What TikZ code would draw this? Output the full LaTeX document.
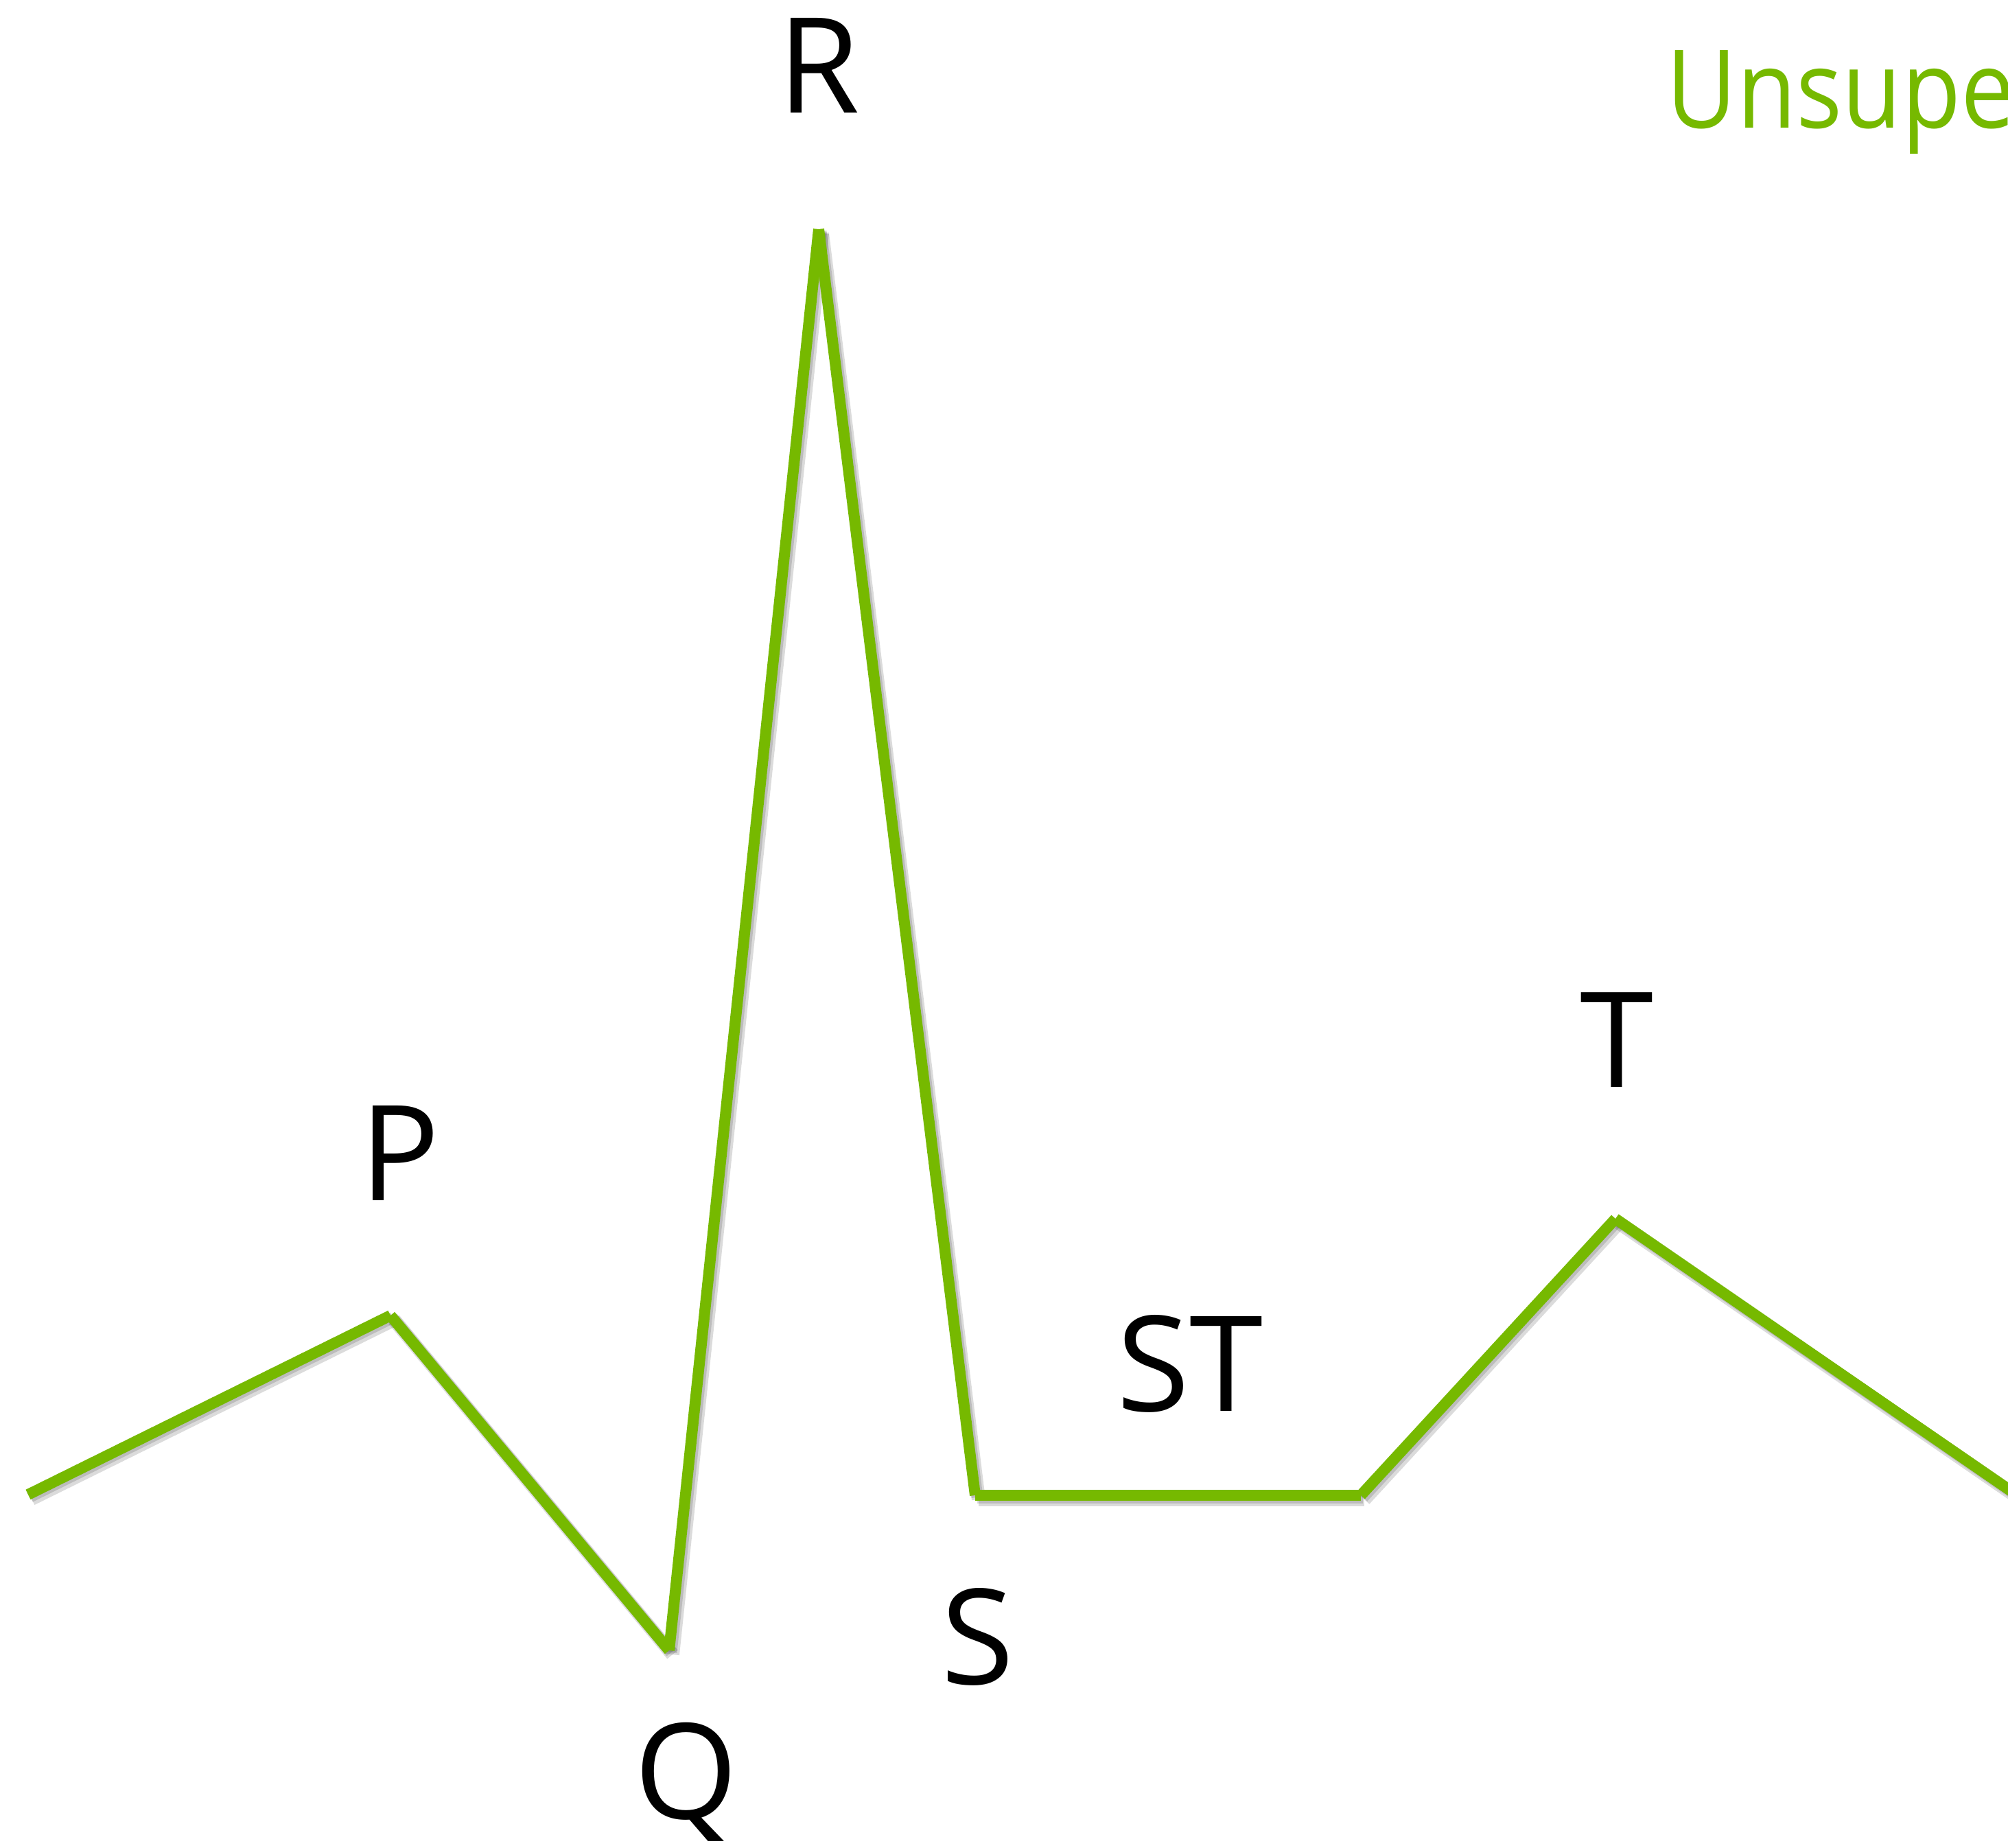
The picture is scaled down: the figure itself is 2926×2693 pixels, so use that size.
\documentclass[tikz,border=0pt]{standalone}
\usepackage{fontspec}
\setmainfont{Open Sans}
\definecolor{nvgreen}{HTML}{76B900}
\tikzset{
  wave/.style={draw=nvgreen, line width=0.16cm, line cap=butt},
  waveshadow/.style={draw=black, opacity=0.14, line width=0.2cm, line cap=butt},
  lbl/.style={inner sep=0pt, anchor=base, text=black, font=\fontsize{55}{66}\selectfont},
  ttl/.style={inner sep=0pt, anchor=base west, text=nvgreen, font=\fontsize{45}{54}\selectfont}
}
\begin{document}
\begin{tikzpicture}[x=0.01cm, y=-0.01cm]
\clip (0,0) rectangle (2926,2693);
\fill[white] (0,0) rectangle (2926,2693);
% vertices
\coordinate (start) at (41,2178);
\coordinate (p) at (569,1917);
\coordinate (q) at (975,2405);
\coordinate (r) at (1193,334);
\coordinate (s) at (1421,2179);
\coordinate (ste) at (1983,2179);
\coordinate (t) at (2354,1776);
\coordinate (fin) at (2970,2200);
% shadows
\foreach \a/\b in {start/p, p/q, q/r, r/s, s/ste, ste/t, t/fin}{
  \draw[waveshadow] ([shift={(5,6)}]\a) -- ([shift={(5,6)}]\b);
  \draw[waveshadow, line width=0.17cm] ([shift={(3,3)}]\a) -- ([shift={(3,3)}]\b);
}
% wave segments
\foreach \a/\b in {start/p, p/q, q/r, r/s, s/ste, ste/t, t/fin}{
  \draw[wave] (\a) -- (\b);
}
% labels
\node[lbl] (lR) at (1193,164) {R};
\node[lbl] (lP) at (583,1749) {P};
\node[lbl] (lQ) at (1000,2650) {Q};
\node[lbl] (lS) at (1425,2454) {S};
\node[lbl] (lST) at (1734,2056) {ST};
\node[lbl] (lT) at (2356,1584) {T};
\node[ttl] (title) at (2428,186) {\scalebox{0.89}[1]{Unsupervised}};
\end{tikzpicture}
\end{document}
